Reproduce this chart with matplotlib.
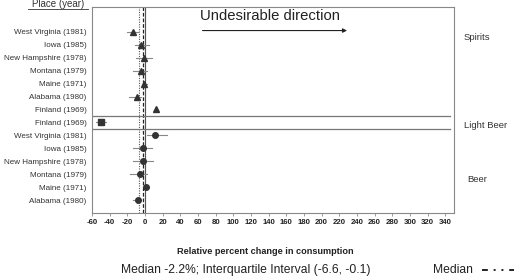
import matplotlib
matplotlib.use("Agg")
import matplotlib.pyplot as plt
import numpy as np

plt.rcParams['font.family'] = ['Liberation Sans', 'DejaVu Sans']

labels = ["West Virginia (1981)", "Iowa (1985)", "New Hampshire (1978)", "Montana (1979)",
          "Maine (1971)", "Alabama (1980)", "Finland (1969)",
          "Finland (1969)",
          "West Virginia (1981)", "Iowa (1985)", "New Hampshire (1978)", "Montana (1979)",
          "Maine (1971)", "Alabama (1980)"]
groups = ["Spirits"] * 7 + ["Light Beer"] + ["Beer"] * 6
estimates = [-14, -4, -1, -4, -0.6, -9.5, 12.5, -50, 11.5, -2, -2, -6, 1.5, -8]
ci_low = [-20, -11, -10, -14, -3, -18, 12.5, -56, 2, -13, -14, -17, -1, -13]
ci_high = [-8, 4, 8, 2, 2, -4, 12.5, -44, 25, 8, 9, 2, 4, -4]
median = -2.2
iqr = (-6.6, -0.1)
xticks = list(range(-60, 341, 20))

markers = {"Spirits": "^", "Light Beer": "s", "Beer": "o"}

fig = plt.figure(figsize=(5.16, 2.79), dpi=100)
ax = fig.add_axes([92 / 516, 1 - 213 / 279, (454 - 92) / 516, (213 - 7) / 279])

ypos = np.arange(len(labels))
for i in range(len(labels)):
    ax.plot([ci_low[i], ci_high[i]], [ypos[i], ypos[i]], color="#888888", lw=0.8, zorder=2)
    ax.plot(estimates[i], ypos[i], marker=markers[groups[i]], color="#333333",
            markersize=4, linestyle="none", zorder=3)

ax.axvline(0, color="#555555", lw=0.8, zorder=1)
ax.axvline(median, color="#222222", lw=0.9, ls=(0, (3, 1.5)), zorder=1)
for q in iqr:
    ax.axvline(q, color="#555555", lw=0.8, ls=(0, (1, 1.2)), zorder=1)

for yl in (6.5, 7.5):
    ax.plot([-60, 345], [yl, yl], color="#777777", lw=0.9, zorder=1)

ax.set_xlim(-60, 350)
ax.set_ylim(14.0, -1.92)
ax.set_xticks(xticks)
ax.set_xticklabels([str(t) for t in xticks], fontsize=5.6, fontweight="bold", color="#222222")
ax.set_yticks(ypos)
ax.set_yticklabels(labels, fontsize=5.8, color="#333333")
ax.tick_params(axis="y", length=0, pad=4)
ax.tick_params(axis="x", length=2, width=0.6, color="#888888", pad=2)
for s in ax.spines.values():
    s.set_color("#888888")
    s.set_linewidth(0.8)

ax.text(62, -1.2, "Undesirable direction", fontsize=10.7, color="#222222", va="center", ha="left")
ax.annotate("", xy=(232, -0.1), xytext=(62, -0.1),
            arrowprops=dict(arrowstyle="-|>", color="#222222", lw=0.8, mutation_scale=6))

fig.text(464 / 516, 1 - 38 / 279, "Spirits", fontsize=6.8, color="#333333", va="center")
fig.text(464 / 516, 1 - 125 / 279, "Light Beer", fontsize=6.8, color="#333333", va="center")
fig.text(467 / 516, 1 - 179 / 279, "Beer", fontsize=6.8, color="#333333", va="center")

fig.text(58 / 516, 1 - 4 / 279, "Place (year)", fontsize=7, color="#333333", ha="center",
         va="center")
fig.add_artist(plt.Line2D([28 / 516, 88 / 516], [1 - 8.5 / 279, 1 - 8.5 / 279], color="#333333", lw=0.6))

fig.text(265 / 516, 1 - 251 / 279, "Relative percent change in consumption", fontsize=6.6,
         fontweight="bold", color="#222222", ha="center", va="center")
fig.text(246 / 516, 1 - 270 / 279, "Median -2.2%; Interquartile Interval (-6.6, -0.1)",
         fontsize=8.7, color="#222222", ha="center", va="center")
fig.text(433 / 516, 1 - 270 / 279, "Median", fontsize=8.7, color="#222222", ha="left", va="center")
fig.add_artist(plt.Line2D([482 / 516, 514 / 516], [1 - 270 / 279, 1 - 270 / 279], color="#222222",
                          lw=1.4, ls=(0, (3, 3, 1, 3, 1, 3))))

fig.savefig("out.png", dpi=100)
